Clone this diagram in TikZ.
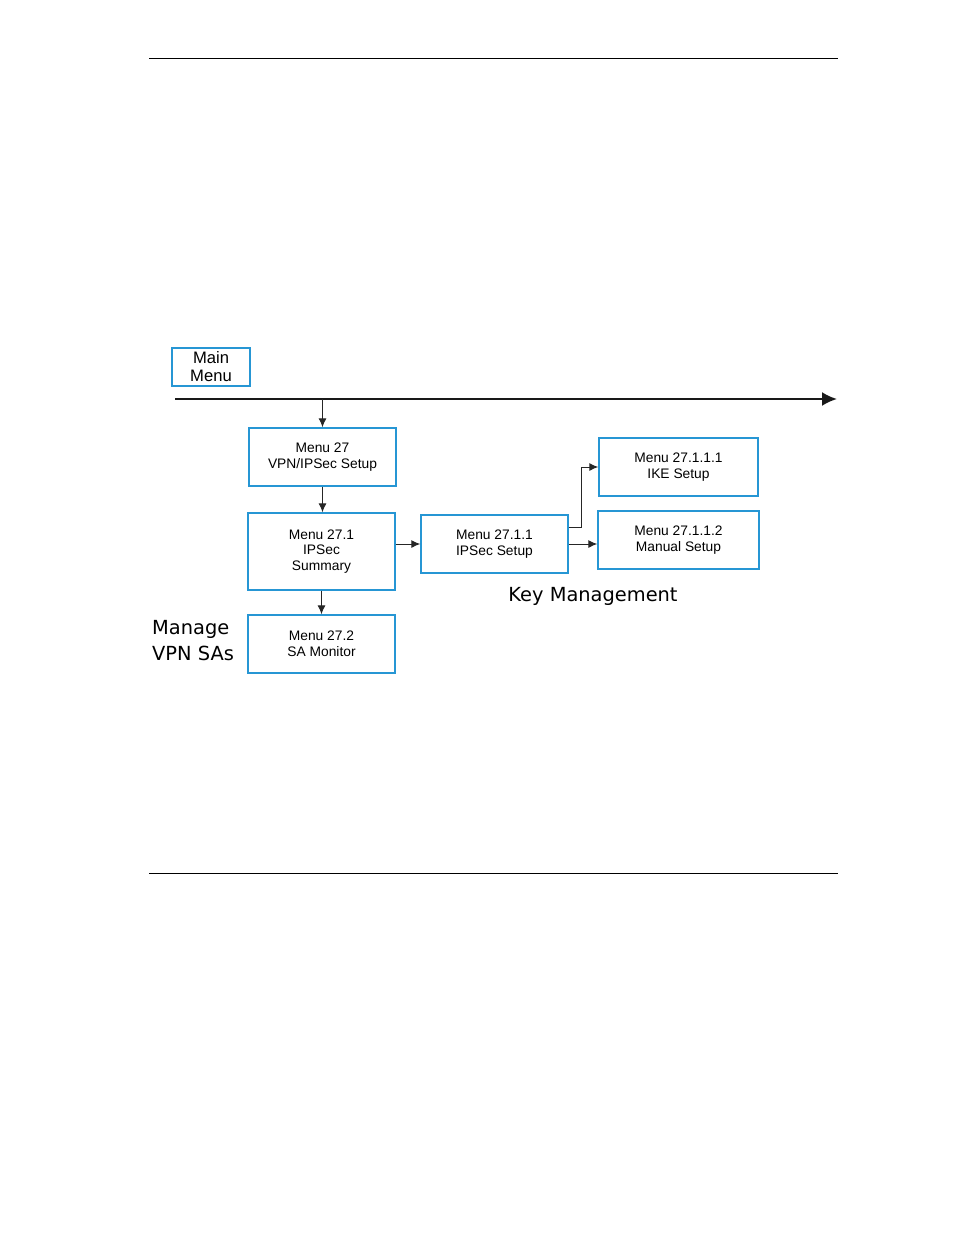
\documentclass[tikz,border=0pt]{standalone}
\usepackage{fontspec}
\setmainfont{Liberation Sans}
\newfontfamily\notefont{DejaVu Sans}
\usetikzlibrary{arrows.meta}
\definecolor{boxblue}{RGB}{38,150,212}

\begin{document}
\begin{tikzpicture}[x=1pt,y=-1pt,
  menubox/.style={draw=boxblue, line width=1.4pt, minimum width=147pt,
    minimum height=58pt, inner sep=0pt, align=center,
    font=\fontsize{13.8}{15.6}\selectfont},
  note/.style={font=\notefont\fontsize{19.4}{26}\selectfont, inner sep=0pt},
  link/.style={-{Latex[length=9pt,width=8pt]}, line width=1pt, black!85}]

      \useasboundingbox (0,0) rectangle (954,1235);

      % page rules
      \draw[line width=0.8pt] (149,58) -- (838,58);
      \draw[line width=0.8pt] (149,873) -- (838,873);

      \node (mainmenu) at (211,367) [menubox, minimum width=78pt,
      minimum height=38pt, font=\fontsize{16.6}{18}\selectfont]
      {Main\\Menu};

      \coordinate (linestart) at (175,399);
      \coordinate (lineend) at (837,399);
      \draw[-{Latex[length=15pt,width=14pt]}, line width=2.2pt, black!90]
      (linestart) -- (lineend);

      \node (menu27) at (322.5,457) [menubox]
      {Menu 27\\VPN/IPSec Setup};

      \node (summary) at (321.5,551.5) [menubox, minimum height=77pt]
      {Menu 27.1\\IPSec\\Summary};

      \node (monitor) at (321.5,644) [menubox]
      {Menu 27.2\\SA Monitor};

      \node (ipsec) at (494.5,544) [menubox]
      {Menu 27.1.1\\IPSec Setup};

      \node (ike) at (678.5,467) [menubox, minimum width=159pt]
      {Menu 27.1.1.1\\IKE Setup};

      \node (manual) at (678.5,540) [menubox, minimum width=161pt]
      {Menu 27.1.1.2\\Manual Setup};

      \node (keymgmt) at (593,596) [note]
      {Key Management};

      \node (managesa) at (152,641) [note, anchor=west, align=left]
      {Manage\\VPN SAs};

      \draw[link] (menu27.north |- linestart) -- (menu27.north);

      \draw[link] (menu27.south) -- (menu27.south |- summary.north);

      \draw[link] (summary.south) -- (monitor.north);

      \draw[link] (summary.east |- ipsec.west) -- (ipsec.west);

      \draw[link] ([yshift=17pt]ipsec.east) -- ++(13,0) |- (ike.west);

      \draw[link] (ipsec.east) -- (manual.west |- ipsec.east);
    \end{tikzpicture}
\end{document}
